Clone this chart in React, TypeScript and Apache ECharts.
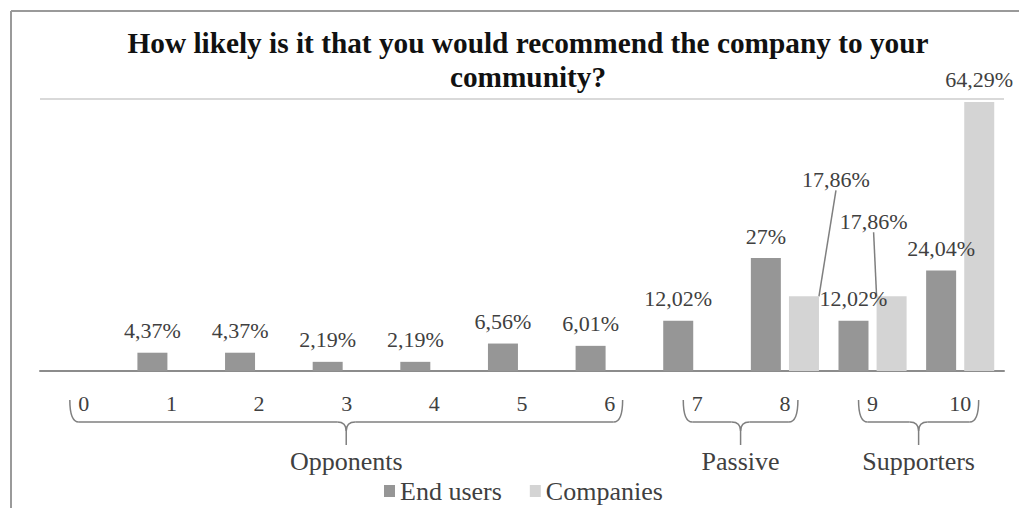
import React, { useEffect, useRef } from 'react';
import * as echarts from 'echarts';

const categories = ['0', '1', '2', '3', '4', '5', '6', '7', '8', '9', '10'];
const endUsers = [0, 4.37, 4.37, 2.19, 2.19, 6.56, 6.01, 12.02, 27, 12.02, 24.04];
const companies = [0, 0, 0, 0, 0, 0, 0, 0, 17.86, 17.86, 64.29];
const seriesNames = ['End users', 'Companies'];
const groupNames = ['Opponents', 'Passive', 'Supporters'];
const groupFrom = [0, 7, 9];
const groupTo = [6, 8, 10];
const titleText = 'How likely is it that you would recommend the company to your\ncommunity?';
const yMax = 65;

const FONT = "'Liberation Serif', 'Times New Roman', serif";
const TXT = '#404040';
const GREY_LINE = '#8c8c8c';

const fmt = (v: number) => (v ? String(v).replace('.', ',') + '%' : '');

export default function App() {
  const ref = useRef<HTMLDivElement>(null);
  useEffect(() => {
    if (!ref.current) return;
    const chart = echarts.init(ref.current, undefined, { renderer: 'svg' });
    chart.setOption({
      animation: false,
      backgroundColor: '#ffffff',
      title: {
        text: titleText,
        left: 523,
        top: 21,
        textAlign: 'center',
        textStyle: {
          fontFamily: FONT,
          fontWeight: 'bold',
          fontSize: 29.3,
          lineHeight: 34,
          color: '#111',
        },
      },
      legend: {
        data: seriesNames,
        left: 379,
        top: 473,
        icon: 'rect',
        itemWidth: 11,
        itemHeight: 12,
        itemGap: 28,
        textStyle: { fontFamily: FONT, fontSize: 26, color: TXT },
      },
      grid: { left: 40, right: 15, top: 99, bottom: 137, containLabel: false },
      xAxis: {
        type: 'category',
        data: categories,
        axisLine: { lineStyle: { color: GREY_LINE, width: 2 } },
        axisTick: { show: false },
        axisLabel: { fontFamily: FONT, fontSize: 22, color: TXT, margin: 21 },
      },
      yAxis: {
        type: 'value',
        min: 0,
        max: yMax,
        interval: yMax,
        axisLabel: { show: false },
        axisLine: { show: false },
        axisTick: { show: false },
        splitLine: { lineStyle: { color: '#d9d9d9', width: 2 } },
      },
      series: [
        {
          name: seriesNames[0],
          type: 'bar',
          data: endUsers,
          barWidth: 30,
          barGap: '27%',
          itemStyle: { color: '#969696' },
          label: {
            show: true,
            position: 'top',
            distance: 11,
            formatter: (p: any) => fmt(p.value),
            fontFamily: FONT,
            fontSize: 22,
            color: TXT,
          },
        },
        {
          name: seriesNames[1],
          type: 'bar',
          data: companies.map((v, i) => ({
            value: v,
            labelLine: { show: i === 8 || i === 9 },
          })),
          barWidth: 30,
          barGap: '27%',
          itemStyle: { color: '#d4d4d4' },
          label: {
            show: true,
            position: 'top',
            distance: 11,
            formatter: (p: any) => fmt(p.value),
            fontFamily: FONT,
            fontSize: 22,
            color: TXT,
          },
          labelLine: { show: false, lineStyle: { color: '#7f7f7f', width: 1.5 } },
          labelLayout: (p: any) => {
            if (p.dataIndex === 8) return { dx: 32, dy: -95 };
            if (p.dataIndex === 9) return { dx: -18, dy: -53 };
            return {};
          },
        },
      ],
    });

    const px = (i: number) => chart.convertToPixel({ xAxisIndex: 0 }, i) as number;
    const yTop = 400;
    const yMid = 422;
    const yBot = 445;
    const lineStyle = { stroke: '#7f7f7f', lineWidth: 1.5, fill: null };
    const graphics: any[] = [
      { type: 'line', shape: { x1: 11, y1: 11, x2: 1019, y2: 11 }, style: { stroke: '#9a9a9a', lineWidth: 2 } },
      { type: 'line', shape: { x1: 11, y1: 11, x2: 11, y2: 508 }, style: { stroke: '#9a9a9a', lineWidth: 2 } },
    ];
    groupNames.forEach((name, g) => {
      const a = categories[groupFrom[g]];
      const b = categories[groupTo[g]];
      const L = px(groupFrom[g]) - (8.5 + 5.5 * a.length);
      const R = px(groupTo[g]) + (7.5 + 5.5 * b.length);
      const M = (L + R) / 2;
      const r = 9;
      graphics.push(
        { type: 'bezierCurve', shape: { x1: L, y1: yTop, cpx1: L, cpy1: yMid, x2: L + r, y2: yMid }, style: lineStyle },
        { type: 'line', shape: { x1: L + r, y1: yMid, x2: M - r, y2: yMid }, style: lineStyle },
        { type: 'bezierCurve', shape: { x1: M - r, y1: yMid, cpx1: M, cpy1: yMid, x2: M, y2: yMid + r }, style: lineStyle },
        { type: 'bezierCurve', shape: { x1: M + r, y1: yMid, cpx1: M, cpy1: yMid, x2: M, y2: yMid + r }, style: lineStyle },
        { type: 'line', shape: { x1: M, y1: yMid + r, x2: M, y2: yBot }, style: lineStyle },
        { type: 'line', shape: { x1: M + r, y1: yMid, x2: R - r, y2: yMid }, style: lineStyle },
        { type: 'bezierCurve', shape: { x1: R - r, y1: yMid, cpx1: R, cpy1: yMid, x2: R, y2: yTop }, style: lineStyle },
        {
          type: 'text',
          x: M,
          y: 461,
          style: {
            text: name,
            fontFamily: FONT,
            fontSize: 26,
            fill: TXT,
            textAlign: 'center',
            textVerticalAlign: 'middle',
          },
        }
      );
    });
    chart.setOption({ graphic: graphics });

    return () => chart.dispose();
  }, []);
  return <div ref={ref} style={{ position: 'absolute', left: 0, top: 0, width: 1019, height: 508 }} />;
}
